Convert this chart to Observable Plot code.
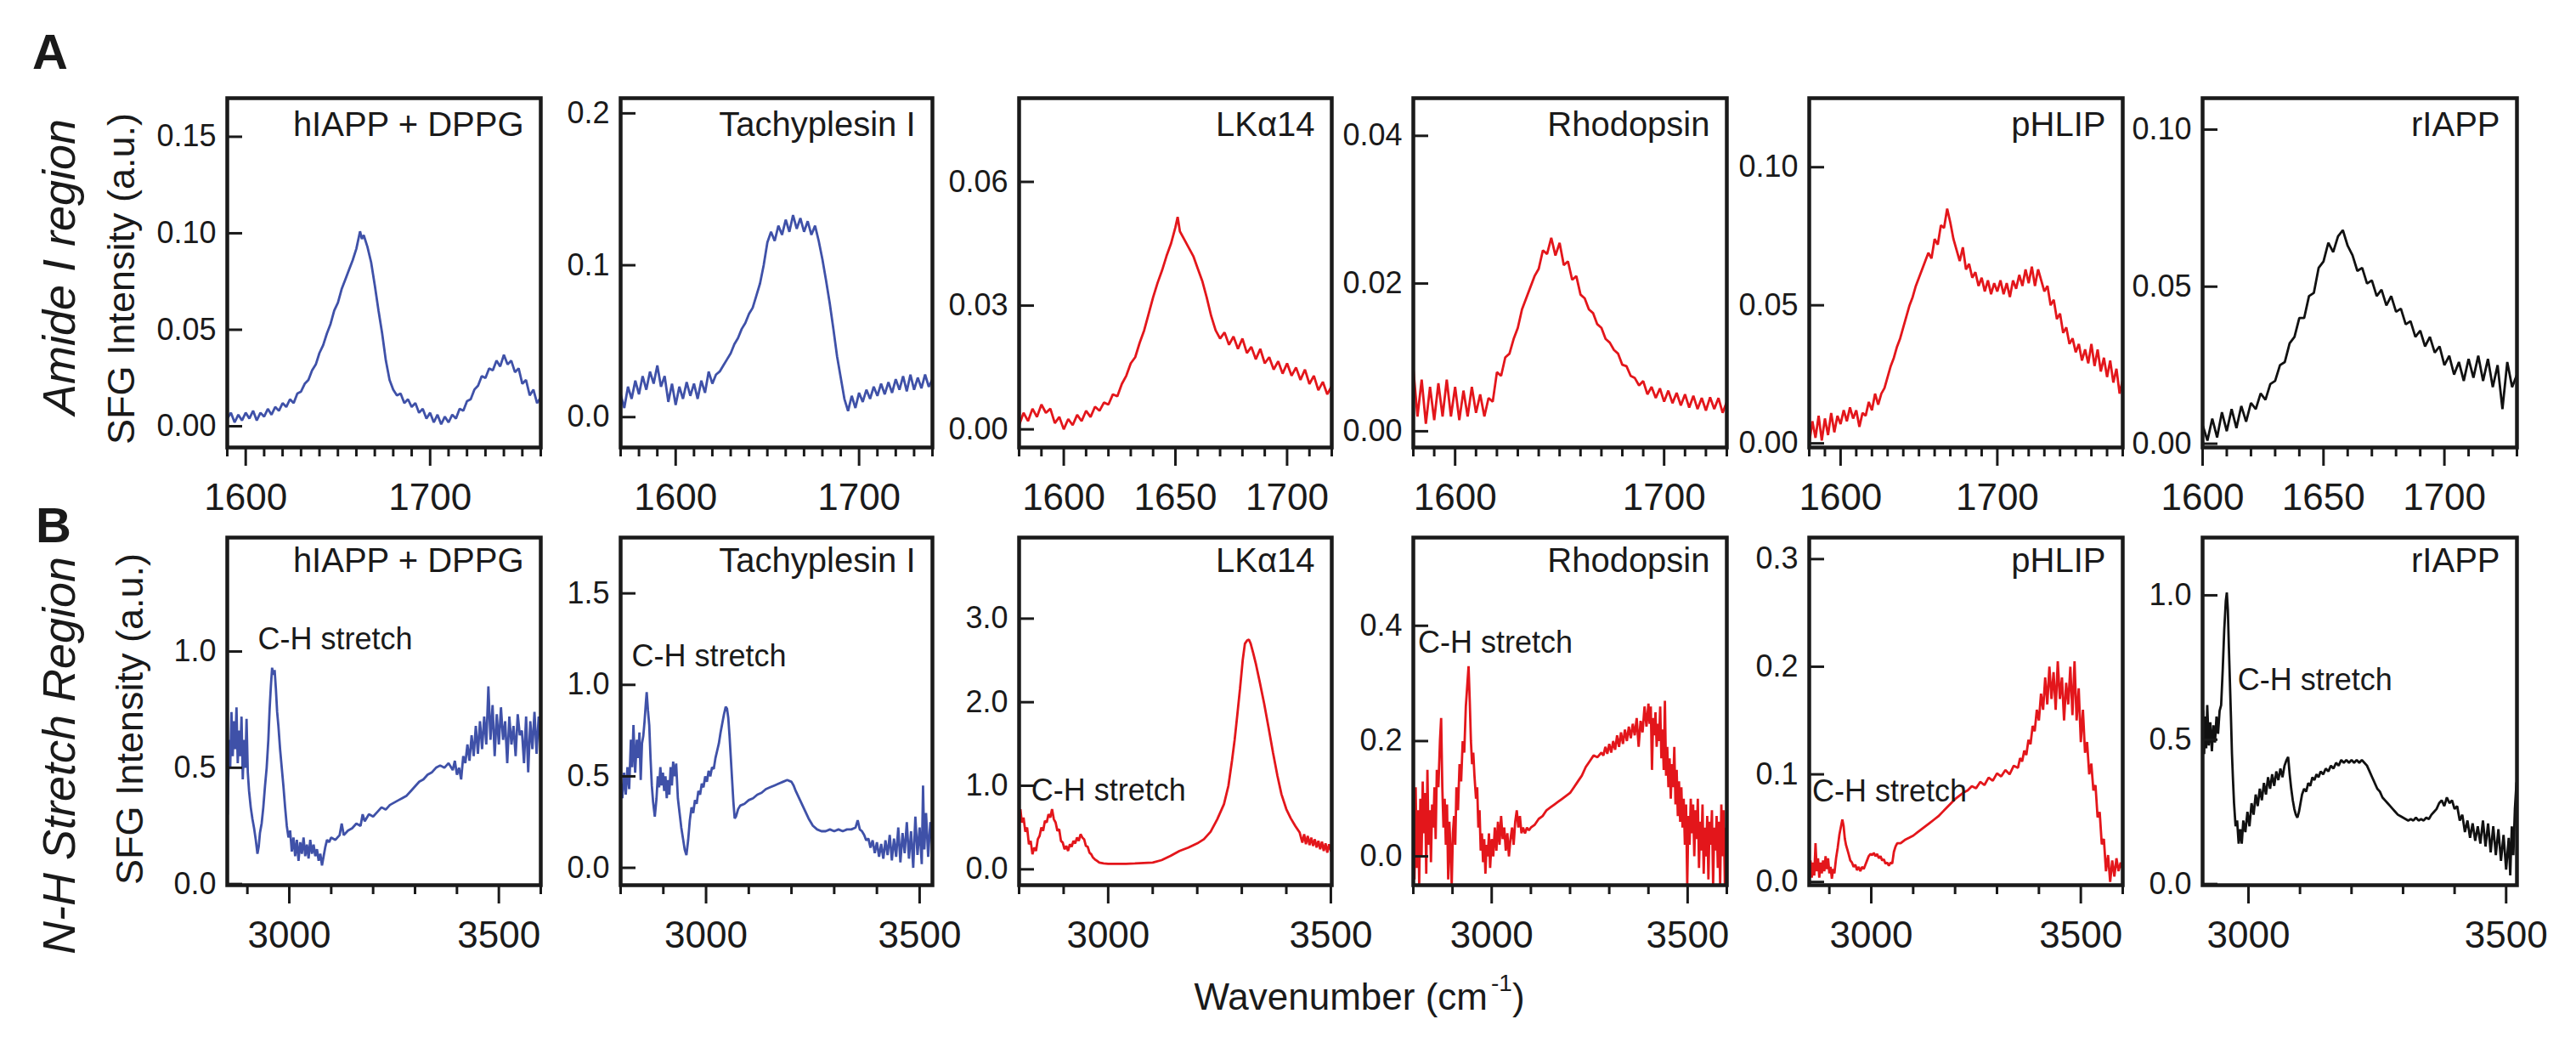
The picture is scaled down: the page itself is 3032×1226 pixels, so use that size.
<!DOCTYPE html>
<html><head><meta charset="utf-8">
<script src="https://cdn.jsdelivr.net/npm/d3@7"></script>
<script src="https://cdn.jsdelivr.net/npm/@observablehq/plot@0.6"></script>
<style>
html,body{margin:0;padding:0;background:#fff;}
#fig{position:relative;width:3032px;height:1226px;overflow:hidden;background:#fff;font-family:"Liberation Sans",Arial,sans-serif;color:#1a1a1a;}
#fig svg{position:absolute;overflow:visible;}
</style></head><body><div id="fig"></div>
<script>
// ---------------- DATA ----------------
const panelTitles = ["hIAPP + DPPG", "Tachyplesin I", "LK\u03b114", "Rhodopsin", "pHLIP", "rIAPP"];
const annotationText = "C-H stretch";

// Amide I region spectra: [wavenumber, SFG intensity]
const amideHIAPP = [[1590,.004],[1592,.007],[1594,.002],[1596,.006],[1598,.003],[1600,.007],[1602,.004],[1604,.008],[1606,.003],[1608,.007],[1610,.005],[1612,.009],[1614,.006],[1616,.010],[1618,.008],[1620,.012],[1622,.010],[1624,.014],[1626,.012],[1628,.017],[1630,.018],[1632,.022],[1634,.024],[1636,.029],[1638,.032],[1640,.038],[1642,.042],[1644,.048],[1646,.053],[1648,.060],[1650,.064],[1652,.071],[1654,.076],[1656,.081],[1658,.086],[1660,.092],[1662,.101],[1663,.097],[1664,.099],[1666,.093],[1668,.085],[1670,.073],[1672,.060],[1674,.048],[1676,.034],[1678,.024],[1680,.019],[1682,.016],[1684,.017],[1686,.012],[1688,.014],[1690,.010],[1692,.012],[1694,.007],[1696,.009],[1698,.004],[1700,.007],[1702,.002],[1704,.006],[1706,.001],[1708,.005],[1710,.002],[1712,.006],[1714,.004],[1716,.009],[1718,.008],[1720,.013],[1722,.014],[1724,.019],[1726,.021],[1728,.026],[1730,.025],[1732,.030],[1734,.029],[1736,.034],[1738,.031],[1740,.037],[1742,.032],[1744,.034],[1746,.028],[1748,.030],[1750,.022],[1752,.024],[1754,.016],[1756,.019],[1758,.012],[1760,.015]];
const amideTachy = [[1570,.015],[1572,.006],[1574,.020],[1576,.012],[1578,.024],[1580,.015],[1582,.027],[1584,.018],[1586,.030],[1588,.022],[1590,.034],[1592,.020],[1594,.027],[1596,.010],[1598,.022],[1600,.008],[1602,.020],[1604,.012],[1606,.023],[1608,.014],[1610,.022],[1612,.012],[1614,.024],[1616,.016],[1618,.030],[1620,.022],[1622,.028],[1624,.030],[1626,.034],[1628,.038],[1630,.042],[1632,.048],[1634,.052],[1636,.058],[1638,.062],[1640,.068],[1642,.072],[1644,.080],[1646,.088],[1648,.100],[1650,.115],[1652,.122],[1654,.116],[1656,.126],[1658,.120],[1660,.130],[1662,.122],[1664,.133],[1666,.124],[1668,.131],[1670,.122],[1672,.129],[1674,.120],[1676,.126],[1678,.116],[1680,.104],[1682,.090],[1684,.075],[1686,.058],[1688,.040],[1690,.026],[1692,.012],[1694,.004],[1696,.014],[1698,.006],[1700,.016],[1702,.010],[1704,.018],[1706,.012],[1708,.020],[1710,.014],[1712,.022],[1714,.015],[1716,.023],[1718,.016],[1720,.025],[1722,.018],[1724,.027],[1726,.017],[1728,.028],[1730,.018],[1732,.026],[1734,.019],[1736,.028],[1738,.020],[1740,.025]];
const amideLK = [[1580,.0010],[1582,.0040],[1584,.0020],[1586,.0050],[1588,.0030],[1590,.0060],[1592,.0040],[1594,.0050],[1596,.0015],[1598,.0030],[1600,.0000],[1602,.0025],[1604,.0010],[1606,.0035],[1608,.0020],[1610,.0045],[1612,.0030],[1614,.0055],[1616,.0045],[1618,.0065],[1620,.0060],[1622,.0085],[1624,.0080],[1626,.0110],[1628,.0130],[1630,.0160],[1632,.0175],[1634,.0210],[1636,.0240],[1638,.0280],[1640,.0320],[1642,.0355],[1644,.0385],[1646,.0420],[1648,.0450],[1650,.0490],[1651,.0515],[1652,.0480],[1654,.0460],[1656,.0440],[1658,.0420],[1660,.0390],[1662,.0360],[1664,.0320],[1666,.0275],[1668,.0240],[1670,.0220],[1672,.0235],[1674,.0205],[1676,.0225],[1678,.0195],[1680,.0220],[1682,.0185],[1684,.0200],[1686,.0170],[1688,.0195],[1690,.0160],[1692,.0175],[1694,.0145],[1696,.0165],[1698,.0135],[1700,.0160],[1702,.0130],[1704,.0150],[1706,.0120],[1708,.0145],[1710,.0110],[1712,.0130],[1714,.0095],[1716,.0115],[1718,.0085],[1720,.0105]];
const amideRhod = [[1580,.0085],[1582,.0020],[1584,.0070],[1586,.0010],[1588,.0060],[1590,.0015],[1592,.0065],[1594,.0020],[1596,.0070],[1598,.0020],[1600,.0060],[1602,.0015],[1604,.0055],[1606,.0020],[1608,.0060],[1610,.0025],[1612,.0050],[1614,.0020],[1616,.0045],[1618,.0040],[1620,.0080],[1622,.0075],[1624,.0100],[1626,.0105],[1628,.0125],[1630,.0140],[1632,.0165],[1634,.0180],[1636,.0195],[1638,.0210],[1640,.0220],[1642,.0245],[1644,.0240],[1646,.0262],[1648,.0238],[1650,.0255],[1652,.0225],[1654,.0230],[1656,.0205],[1658,.0210],[1660,.0185],[1662,.0180],[1664,.0165],[1666,.0160],[1668,.0145],[1670,.0140],[1672,.0125],[1674,.0120],[1676,.0110],[1678,.0105],[1680,.0090],[1682,.0088],[1684,.0075],[1686,.0072],[1688,.0062],[1690,.0068],[1692,.0050],[1694,.0060],[1696,.0045],[1698,.0058],[1700,.0040],[1702,.0055],[1704,.0038],[1706,.0052],[1708,.0035],[1710,.0050],[1712,.0032],[1714,.0048],[1716,.0030],[1718,.0045],[1720,.0028],[1722,.0046],[1724,.0030],[1726,.0045],[1728,.0025],[1730,.0040]];
const amidePHLIP = [[1580,.000],[1582,.008],[1584,.002],[1586,.010],[1588,.001],[1590,.009],[1592,.003],[1594,.011],[1596,.004],[1598,.010],[1600,.007],[1602,.012],[1604,.008],[1606,.013],[1608,.009],[1610,.012],[1612,.006],[1614,.011],[1616,.010],[1618,.015],[1620,.012],[1622,.018],[1624,.014],[1626,.018],[1628,.020],[1630,.024],[1632,.028],[1634,.031],[1636,.035],[1638,.038],[1640,.042],[1642,.046],[1644,.050],[1646,.053],[1648,.057],[1650,.060],[1652,.063],[1654,.066],[1656,.069],[1658,.067],[1660,.074],[1662,.072],[1664,.079],[1666,.078],[1668,.085],[1670,.080],[1672,.074],[1674,.070],[1676,.066],[1678,.071],[1680,.063],[1682,.065],[1684,.060],[1686,.062],[1688,.057],[1690,.060],[1692,.055],[1694,.059],[1696,.054],[1698,.058],[1700,.055],[1702,.059],[1704,.054],[1706,.058],[1708,.053],[1710,.059],[1712,.056],[1714,.061],[1716,.057],[1718,.063],[1720,.058],[1722,.064],[1724,.057],[1726,.063],[1728,.059],[1730,.055],[1732,.057],[1734,.050],[1736,.052],[1738,.045],[1740,.047],[1742,.040],[1744,.042],[1746,.036],[1748,.038],[1750,.033],[1752,.036],[1754,.030],[1756,.034],[1758,.029],[1760,.036],[1762,.028],[1764,.034],[1766,.026],[1768,.031],[1770,.024],[1772,.030],[1774,.022],[1776,.027],[1778,.018],[1780,.023]];
const amideRIAPP = [[1600,.006],[1602,.001],[1604,.008],[1606,.002],[1608,.010],[1610,.004],[1612,.011],[1614,.005],[1616,.012],[1618,.007],[1620,.013],[1622,.011],[1624,.016],[1626,.014],[1628,.019],[1630,.020],[1632,.025],[1634,.026],[1636,.032],[1638,.034],[1640,.040],[1642,.040],[1644,.047],[1646,.048],[1648,.056],[1650,.058],[1652,.064],[1654,.061],[1656,.066],[1658,.068],[1660,.063],[1662,.060],[1664,.055],[1666,.056],[1668,.051],[1670,.052],[1672,.047],[1674,.049],[1676,.044],[1678,.047],[1680,.042],[1682,.043],[1684,.038],[1686,.039],[1688,.034],[1690,.036],[1692,.031],[1694,.034],[1696,.029],[1698,.031],[1700,.025],[1702,.028],[1704,.022],[1706,.026],[1708,.020],[1710,.027],[1712,.021],[1714,.028],[1716,.020],[1718,.027],[1720,.018],[1722,.025],[1724,.011],[1726,.026],[1728,.018],[1730,.022]];

// N-H stretch region spectra: [wavenumber, SFG intensity]
const nhHIAPP = [[2853,.30],[2856,.62],[2859,.50],[2862,.74],[2865,.55],[2868,.70],[2871,.58],[2874,.76],[2877,.52],[2880,.66],[2883,.55],[2886,.72],[2889,.45],[2892,.62],[2895,.50],[2898,.71],[2901,.48],[2904,.40],[2908,.33],[2912,.28],[2916,.24],[2920,.19],[2924,.13],[2927,.16],[2930,.22],[2934,.26],[2938,.33],[2942,.42],[2946,.50],[2950,.62],[2953,.75],[2956,.85],[2959,.93],[2962,.90],[2965,.92],[2968,.84],[2971,.74],[2974,.68],[2978,.58],[2982,.50],[2986,.42],[2990,.33],[2994,.25],[2998,.20],[3002,.23],[3006,.14],[3010,.20],[3014,.12],[3018,.19],[3022,.10],[3026,.18],[3030,.13],[3034,.20],[3038,.12],[3042,.17],[3046,.11],[3050,.19],[3054,.13],[3058,.17],[3062,.12],[3066,.15],[3070,.10],[3074,.13],[3078,.08],[3082,.12],[3086,.16],[3090,.19],[3095,.18],[3100,.20],[3110,.19],[3120,.21],[3125,.26],[3130,.21],[3140,.23],[3150,.24],[3160,.26],[3170,.25],[3175,.30],[3180,.27],[3190,.30],[3200,.29],[3210,.31],[3220,.33],[3230,.32],[3240,.34],[3250,.35],[3260,.36],[3270,.37],[3280,.38],[3290,.40],[3300,.42],[3310,.44],[3320,.45],[3330,.47],[3340,.48],[3350,.50],[3360,.51],[3370,.50],[3380,.52],[3390,.49],[3395,.53],[3400,.47],[3405,.50],[3410,.45],[3415,.55],[3420,.52],[3425,.60],[3430,.53],[3435,.64],[3440,.55],[3445,.68],[3450,.56],[3455,.70],[3460,.58],[3465,.72],[3470,.60],[3475,.85],[3480,.62],[3485,.77],[3490,.55],[3495,.73],[3500,.60],[3505,.76],[3510,.62],[3515,.70],[3520,.52],[3525,.72],[3530,.60],[3535,.68],[3540,.55],[3545,.73],[3550,.64],[3555,.66],[3560,.52],[3565,.72],[3570,.48],[3575,.70],[3580,.58],[3585,.74],[3590,.56],[3595,.72],[3600,.60]];
const nhTachy = [[2800,.47],[2804,.38],[2808,.52],[2812,.40],[2816,.55],[2820,.43],[2824,.70],[2827,.55],[2830,.78],[2834,.52],[2838,.70],[2841,.60],[2844,.74],[2847,.48],[2850,.68],[2853,.72],[2856,.80],[2859,.90],[2861,.96],[2864,.86],[2867,.78],[2870,.60],[2873,.45],[2876,.36],[2880,.28],[2884,.38],[2887,.50],[2890,.44],[2893,.55],[2896,.45],[2899,.52],[2902,.42],[2905,.50],[2908,.38],[2911,.48],[2914,.40],[2917,.55],[2920,.45],[2923,.58],[2926,.50],[2930,.57],[2934,.38],[2938,.30],[2942,.22],[2946,.16],[2950,.10],[2954,.07],[2958,.15],[2962,.26],[2966,.33],[2970,.30],[2974,.37],[2978,.35],[2982,.42],[2986,.40],[2990,.46],[2994,.44],[2998,.50],[3002,.47],[3006,.53],[3010,.50],[3014,.55],[3018,.54],[3022,.60],[3026,.64],[3030,.68],[3034,.74],[3038,.79],[3042,.84],[3046,.88],[3049,.87],[3052,.82],[3055,.72],[3058,.60],[3061,.48],[3064,.36],[3067,.27],[3070,.28],[3075,.32],[3080,.34],[3090,.35],[3100,.37],[3110,.38],[3120,.40],[3130,.41],[3140,.43],[3150,.44],[3160,.45],[3170,.46],[3180,.47],[3190,.48],[3200,.47],[3205,.45],[3210,.42],[3220,.37],[3230,.32],[3240,.27],[3250,.23],[3260,.21],[3270,.20],[3280,.20],[3290,.21],[3300,.20],[3310,.21],[3320,.20],[3330,.21],[3340,.21],[3350,.22],[3355,.26],[3360,.21],[3365,.20],[3370,.18],[3375,.15],[3380,.16],[3385,.11],[3390,.15],[3395,.08],[3400,.14],[3405,.06],[3410,.13],[3415,.05],[3420,.15],[3425,.07],[3430,.18],[3435,.04],[3440,.16],[3445,.06],[3450,.22],[3455,.03],[3460,.19],[3465,.08],[3470,.25],[3475,.05],[3480,.20],[3485,.00],[3490,.28],[3495,.07],[3500,.22],[3505,.02],[3508,.45],[3511,.10],[3515,.30],[3520,.06],[3525,.25],[3530,.12]];
const nhLK = [[2800,.62],[2803,.72],[2806,.56],[2810,.62],[2814,.45],[2818,.50],[2822,.30],[2826,.34],[2830,.18],[2834,.26],[2838,.22],[2842,.36],[2846,.40],[2850,.50],[2854,.46],[2858,.58],[2862,.56],[2866,.66],[2870,.62],[2874,.72],[2878,.60],[2882,.56],[2886,.46],[2890,.48],[2894,.34],[2898,.32],[2902,.24],[2906,.28],[2910,.22],[2914,.30],[2918,.27],[2922,.34],[2926,.31],[2930,.38],[2934,.34],[2938,.42],[2942,.38],[2946,.36],[2950,.28],[2954,.27],[2958,.20],[2962,.18],[2966,.14],[2970,.12],[2975,.10],[2980,.08],[2990,.07],[3000,.065],[3020,.065],[3040,.065],[3060,.07],[3080,.075],[3100,.08],[3120,.11],[3140,.16],[3160,.22],[3180,.26],[3200,.31],[3215,.36],[3230,.45],[3245,.60],[3260,.78],[3270,1.00],[3278,1.30],[3284,1.55],[3290,1.85],[3296,2.16],[3302,2.50],[3307,2.70],[3312,2.74],[3316,2.75],[3320,2.70],[3326,2.58],[3332,2.45],[3340,2.25],[3350,1.99],[3360,1.70],[3370,1.40],[3380,1.12],[3389,0.90],[3400,0.72],[3410,0.61],[3420,0.52],[3430,0.44],[3436,0.32],[3440,0.42],[3444,0.30],[3448,0.40],[3452,0.29],[3456,0.38],[3460,0.28],[3464,0.36],[3468,0.26],[3472,0.34],[3476,0.24],[3480,0.33],[3484,0.22],[3488,0.31],[3492,0.20],[3496,0.30],[3500,0.22]];
const nhRhod = [[2800,.02],[2803,-.04],[2806,.12],[2809,-.02],[2812,.08],[2815,-.05],[2818,.10],[2821,.00],[2824,.13],[2827,.04],[2830,.11],[2833,-.03],[2836,.15],[2839,.02],[2842,.08],[2845,-.01],[2848,.09],[2851,.05],[2854,.12],[2857,.03],[2860,.15],[2864,.12],[2868,.20],[2871,.24],[2874,.12],[2877,.05],[2880,.10],[2883,.02],[2886,.09],[2889,-.04],[2892,.06],[2895,.01],[2898,-.05],[2901,.04],[2904,.07],[2907,.02],[2910,.12],[2914,.08],[2918,.16],[2922,.13],[2926,.20],[2930,.18],[2934,.26],[2938,.30],[2941,.33],[2944,.27],[2947,.20],[2950,.16],[2953,.18],[2956,.14],[2960,.10],[2963,.12],[2966,.05],[2969,.08],[2972,.01],[2975,.04],[2978,-.01],[2981,.03],[2984,-.03],[2987,.02],[2990,.00],[2993,.04],[2996,-.02],[3000,.03],[3004,.00],[3008,.05],[3012,.01],[3016,.06],[3020,.02],[3024,.07],[3028,.03],[3032,.05],[3036,.01],[3040,.04],[3044,.00],[3048,.03],[3052,.05],[3056,.02],[3060,.06],[3064,.08],[3068,.05],[3072,.07],[3076,.04],[3080,.05],[3085,.04],[3090,.05],[3095,.045],[3100,.05],[3110,.055],[3120,.065],[3130,.07],[3140,.08],[3150,.085],[3160,.09],[3170,.095],[3180,.10],[3190,.105],[3200,.11],[3210,.12],[3220,.13],[3230,.14],[3240,.155],[3250,.165],[3260,.175],[3270,.172],[3280,.18],[3285,.175],[3290,.19],[3295,.178],[3300,.195],[3305,.18],[3310,.20],[3315,.185],[3320,.21],[3325,.19],[3330,.215],[3335,.195],[3340,.22],[3345,.20],[3350,.225],[3355,.205],[3360,.23],[3365,.21],[3370,.24],[3375,.19],[3380,.235],[3385,.215],[3390,.26],[3395,.225],[3400,.265],[3403,.23],[3406,.26],[3409,.15],[3412,.24],[3415,.21],[3418,.25],[3421,.19],[3424,.23],[3427,.20],[3430,.26],[3433,.17],[3436,.22],[3439,.15],[3442,.27],[3445,.14],[3448,.19],[3451,.12],[3454,.17],[3457,.10],[3460,.16],[3463,.12],[3466,.19],[3469,.09],[3472,.15],[3475,.07],[3478,.13],[3481,.06],[3484,.12],[3487,.05],[3490,.10],[3493,.02],[3496,.09],[3499,-.05],[3502,.07],[3505,.02],[3508,.10],[3511,.04],[3514,.09],[3517,.00],[3520,.08],[3523,.03],[3526,.10],[3529,-.02],[3532,.06],[3535,.01],[3538,.09],[3541,-.03],[3544,.05],[3547,.00],[3550,.07],[3553,-.04],[3556,.06],[3559,.02],[3562,.08],[3565,-.05],[3568,.05],[3571,.01],[3574,.07],[3577,-.02],[3580,.06],[3583,-.05],[3586,.09],[3589,.00],[3592,.08],[3595,-.05],[3598,.05],[3600,.00]];
const nhPHLIP = [[2852,.003],[2855,.020],[2858,.004],[2861,.018],[2864,.006],[2867,.036],[2870,.010],[2873,.022],[2876,.004],[2879,.018],[2882,.008],[2885,.020],[2888,.010],[2891,.024],[2894,.012],[2897,.022],[2900,.008],[2903,.014],[2906,.003],[2909,.012],[2912,.008],[2916,.022],[2920,.032],[2924,.044],[2928,.052],[2931,.058],[2934,.052],[2937,.040],[2940,.034],[2943,.030],[2946,.026],[2950,.020],[2954,.018],[2958,.014],[2962,.016],[2966,.011],[2970,.014],[2974,.010],[2978,.014],[2982,.012],[2986,.016],[2990,.020],[2994,.024],[2998,.026],[3002,.025],[3006,.027],[3010,.024],[3014,.026],[3018,.022],[3022,.024],[3026,.020],[3030,.021],[3034,.017],[3038,.018],[3042,.015],[3046,.018],[3050,.017],[3054,.028],[3058,.033],[3062,.036],[3070,.036],[3080,.039],[3090,.041],[3100,.043],[3110,.046],[3120,.049],[3130,.052],[3140,.055],[3150,.058],[3160,.061],[3170,.065],[3180,.069],[3190,.073],[3200,.077],[3210,.080],[3220,.083],[3230,.085],[3240,.089],[3250,.087],[3260,.093],[3270,.090],[3280,.097],[3290,.094],[3300,.101],[3310,.098],[3320,.104],[3330,.100],[3340,.108],[3350,.106],[3355,.115],[3360,.112],[3365,.122],[3370,.118],[3375,.132],[3380,.128],[3385,.145],[3390,.140],[3395,.160],[3400,.150],[3405,.175],[3410,.160],[3415,.190],[3420,.165],[3425,.200],[3430,.170],[3435,.195],[3440,.160],[3445,.205],[3450,.170],[3455,.190],[3460,.150],[3465,.185],[3470,.165],[3475,.200],[3480,.155],[3485,.205],[3490,.150],[3495,.180],[3500,.130],[3505,.160],[3510,.120],[3515,.130],[3520,.100],[3525,.110],[3530,.085],[3535,.090],[3540,.060],[3545,.065],[3550,.035],[3555,.040],[3560,.010],[3565,.025],[3570,.000],[3575,.020],[3580,.005],[3585,.022],[3590,.010],[3595,.018],[3600,.012]];
const nhRIAPP = [[2912,.60],[2914,.45],[2916,.58],[2918,.47],[2920,.62],[2923,.48],[2926,.56],[2929,.46],[2932,.55],[2935,.49],[2938,.58],[2941,.52],[2944,.60],[2947,.62],[2950,.74],[2953,.88],[2956,.98],[2958,1.01],[2960,.95],[2962,.82],[2964,.70],[2966,.58],[2968,.45],[2970,.36],[2972,.28],[2975,.20],[2978,.22],[2981,.14],[2984,.19],[2987,.14],[2990,.22],[2994,.18],[2998,.25],[3002,.20],[3006,.28],[3010,.24],[3014,.31],[3018,.27],[3022,.33],[3026,.29],[3030,.35],[3034,.31],[3038,.37],[3042,.33],[3046,.38],[3050,.34],[3054,.39],[3058,.36],[3062,.40],[3066,.37],[3070,.41],[3074,.43],[3077,.44],[3080,.38],[3083,.33],[3086,.29],[3089,.26],[3092,.24],[3095,.23],[3098,.25],[3101,.28],[3104,.31],[3108,.33],[3112,.32],[3116,.35],[3120,.34],[3124,.37],[3128,.36],[3132,.38],[3136,.37],[3140,.39],[3145,.38],[3150,.40],[3155,.39],[3160,.41],[3165,.40],[3170,.42],[3175,.41],[3180,.43],[3185,.42],[3190,.43],[3195,.42],[3200,.43],[3205,.42],[3210,.43],[3215,.42],[3220,.43],[3225,.42],[3230,.41],[3235,.39],[3240,.37],[3245,.35],[3250,.33],[3255,.32],[3260,.30],[3265,.29],[3270,.28],[3275,.27],[3280,.26],[3285,.25],[3290,.24],[3295,.235],[3300,.23],[3305,.225],[3310,.22],[3315,.225],[3320,.22],[3325,.23],[3330,.22],[3335,.225],[3340,.22],[3345,.23],[3350,.225],[3355,.24],[3360,.25],[3365,.26],[3370,.28],[3375,.29],[3380,.27],[3385,.30],[3390,.28],[3395,.29],[3400,.26],[3405,.27],[3410,.22],[3415,.24],[3420,.18],[3425,.22],[3430,.16],[3435,.21],[3440,.15],[3445,.20],[3450,.14],[3455,.22],[3460,.13],[3465,.21],[3470,.11],[3475,.20],[3480,.10],[3485,.19],[3490,.08],[3495,.17],[3500,.05],[3505,.16],[3508,.03],[3511,.20],[3514,.10],[3517,.26],[3520,.35]];

// "C-H stretch" annotation anchor points (data coordinates) for each N-H panel
const chStretchX = [2925, 2826, 2827, 2812, 2859, 2979];
const chStretchY = [1.01, 1.10, 0.82, 0.353, 0.0747, 0.672];

// Tick values and labels
const amideXMajor = [[1600,1700],[1600,1700],[1600,1650,1700],[1600,1700],[1600,1700],[1600,1650,1700]];
const nhXMajor = [[3000,3500],[3000,3500],[3000,3500],[3000,3500],[3000,3500],[3000,3500]];
const amideYTicks = [[0,0.05,0.10,0.15],[0,0.1,0.2],[0,0.03,0.06],[0,0.02,0.04],[0,0.05,0.10],[0,0.05,0.10]];
const amideYLabels = [["0.00","0.05","0.10","0.15"],["0.0","0.1","0.2"],["0.00","0.03","0.06"],["0.00","0.02","0.04"],["0.00","0.05","0.10"],["0.00","0.05","0.10"]];
const nhYTicks = [[0,0.5,1.0],[0,0.5,1.0,1.5],[0,1,2,3],[0,0.2,0.4],[0,0.1,0.2,0.3],[0,0.5,1.0]];
const nhYLabels = [["0.0","0.5","1.0"],["0.0","0.5","1.0","1.5"],["0.0","1.0","2.0","3.0"],["0.0","0.2","0.4"],["0.0","0.1","0.2","0.3"],["0.0","0.5","1.0"]];

// ---------------- LAYOUT / SCALES ----------------
const amideSeries = [amideHIAPP, amideTachy, amideLK, amideRhod, amidePHLIP, amideRIAPP];
const nhSeries = [nhHIAPP, nhTachy, nhLK, nhRhod, nhPHLIP, nhRIAPP];
const lineColors = ["#3f51a8", "#3f51a8", "#e3161b", "#e3161b", "#e3161b", "#111111"];
const frameLeft = [267, 730, 1199, 1663, 2129, 2592];
const frameRight = [636, 1097, 1567, 2032, 2498, 2962];
const rowTop = [115, 632], rowBottom = [526, 1041];
const amideXDomain = [[1590,1760],[1570,1740],[1580,1720],[1580,1730],[1580,1780],[1600,1730]];
const amideYDomain = [[-0.011,0.170],[-0.020,0.210],[-0.0044,0.0803],[-0.0022,0.0451],[-0.0015,0.125],[-0.0012,0.110]];
const nhXDomain = [[2852,3600],[2800,3530],[2800,3502],[2800,3600],[2852,3600],[2911,3521]];
const nhYDomain = [[-0.005,1.49],[-0.095,1.805],[-0.19,3.97],[-0.05,0.553],[-0.003,0.32],[-0.004,1.20]];

const fig = document.getElementById("fig");
const INK = "#1a1a1a";
const FONT = "'Liberation Sans', Arial, sans-serif";

function panel({row, i, data, xDomain, yDomain, xMajor, minorStep, yTicks, yLabels, titleDy, note}) {
  const mL = 110, mR = 20, mT = 20, mB = 90;
  const w = frameRight[i] - frameLeft[i], h = rowBottom[row] - rowTop[row];
  const xMinor = d3.range(Math.ceil(xDomain[0] / minorStep) * minorStep, xDomain[1] + 1e-6, minorStep)
    .filter(v => !xMajor.includes(v));
  const marks = [
    Plot.line(data, {x: d => d[0], y: d => d[1], stroke: lineColors[i], strokeWidth: 2.8, strokeLinejoin: "miter", clip: true}),
    Plot.frame({stroke: INK, strokeWidth: 4.5}),
    Plot.axisX(xMinor, {tickSize: 11, strokeWidth: 3, tickFormat: () => ""}),
    Plot.axisX(xMajor, {tickSize: 22, tickPadding: 20, strokeWidth: 3, fontSize: 44, tickFormat: d => String(d)}),
    Plot.axisY(yTicks, {tickSize: -18, tickPadding: 31, strokeWidth: 3, fontSize: 36, tickFormat: d => yLabels[yTicks.indexOf(d)]}),
    Plot.text([panelTitles[i]], {text: d => d, frameAnchor: "top-right", textAnchor: "end", lineAnchor: "top", dx: -20, dy: titleDy, fontSize: 40, fill: INK})
  ];
  if (note) marks.push(Plot.text([note], {x: d => d.x, y: d => d.y, text: d => d.text, textAnchor: "start", lineAnchor: "bottom", fontSize: 36, fill: INK}));
  const svg = Plot.plot({
    width: w + mL + mR, height: h + mT + mB,
    marginLeft: mL, marginRight: mR, marginTop: mT, marginBottom: mB,
    x: {domain: xDomain}, y: {domain: yDomain},
    style: {background: "transparent", color: INK, fontFamily: FONT, overflow: "visible"},
    marks
  });
  svg.style.left = (frameLeft[i] - mL) + "px";
  svg.style.top = (rowTop[row] - mT) + "px";
  fig.appendChild(svg);
}

for (let i = 0; i < 6; i++) {
  panel({row: 0, i, data: amideSeries[i], xDomain: amideXDomain[i], yDomain: amideYDomain[i],
    xMajor: amideXMajor[i], minorStep: 10, yTicks: amideYTicks[i], yLabels: amideYLabels[i], titleDy: 16});
  panel({row: 1, i, data: nhSeries[i], xDomain: nhXDomain[i], yDomain: nhYDomain[i],
    xMajor: nhXMajor[i], minorStep: 100, yTicks: nhYTicks[i], yLabels: nhYLabels[i], titleDy: 12,
    note: {x: chStretchX[i], y: chStretchY[i], text: annotationText}});
}

// ---------------- FIGURE LABELS ----------------
const ov = d3.select(fig).append("svg").attr("width", 3032).attr("height", 1226)
  .style("left", "0px").style("top", "0px").style("pointer-events", "none")
  .attr("font-family", FONT).attr("fill", INK);
ov.append("text").attr("x", 38).attr("y", 81).attr("font-size", 58).attr("font-weight", "bold").text("A");
ov.append("text").attr("x", 42).attr("y", 638).attr("font-size", 58).attr("font-weight", "bold").text("B");
ov.append("text").attr("transform", "translate(88,314) rotate(-90)").attr("text-anchor", "middle")
  .attr("font-size", 54).attr("font-style", "italic").text("Amide I region");
ov.append("text").attr("transform", "translate(88,889) rotate(-90)").attr("text-anchor", "middle")
  .attr("font-size", 54).attr("font-style", "italic").text("N-H Stretch Region");
ov.append("text").attr("transform", "translate(158,328) rotate(-90)").attr("text-anchor", "middle")
  .attr("font-size", 45).text("SFG Intensity (a.u.)");
ov.append("text").attr("transform", "translate(168,846) rotate(-90)").attr("text-anchor", "middle")
  .attr("font-size", 45).text("SFG Intensity (a.u.)");
const wn = ov.append("text").attr("x", 1600).attr("y", 1188).attr("text-anchor", "middle").attr("font-size", 44);
wn.append("tspan").text("Wavenumber (cm");
wn.append("tspan").attr("font-size", 28).attr("dy", -22).attr("dx", 4).text("-1");
wn.append("tspan").attr("dy", 22).text(")");
</script></body></html>
